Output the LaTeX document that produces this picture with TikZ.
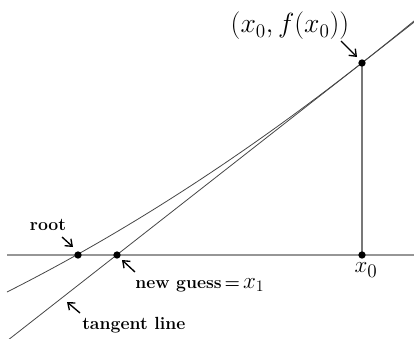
\documentclass[tikz,border=0pt]{standalone}
\usepackage{amsmath}
\usetikzlibrary{arrows.meta,calc}
\begin{document}
\begin{tikzpicture}[x=0.75pt,y=0.75pt,yscale=-1,xscale=1,
  dot/.style={circle,fill=black,inner sep=0pt,minimum size=5.5pt},
  pointer/.style={-{Straight Barb[length=4.5pt,width=7pt]},line width=1pt},
  lbl/.style={inner sep=0.75pt,font=\fontsize{13.2}{15}\bfseries}]
\useasboundingbox (0,0) rectangle (414,339);

%Axis and drop line
\draw [color={rgb, 255:red, 150; green, 150; blue, 150 }, line width=1pt] (7,255) -- (414,255) ;
\coordinate (top) at (362,63);
\coordinate (foot) at (362,255);
\draw [color={rgb, 255:red, 120; green, 120; blue, 120 }, line width=1pt] (top) -- (foot) ;

%Curve Lines
\draw [color={rgb, 255:red, 70; green, 70; blue, 70 }, line width=0.6pt] (7,292) .. controls (142.7,223.6) and (278.3,132.9) .. (414,21) ;
%Tangent line
\draw [color={rgb, 255:red, 70; green, 70; blue, 70 }, line width=0.6pt] (3,344) -- (414,22.2) ;

% Points
\node [dot] (p0) at (top) {};
\node [dot] (x0pt) at (foot) {};
\node [dot] (rt) at (78,255) {};
\node [dot] (x1pt) at (117,255) {};

% Text Node
\node [inner sep=0.75pt, font=\fontsize{19.5}{22}\selectfont] (plbl) at (290,26) {$(x_0, f(x_0))$};
% Text Node
\node [inner sep=0.75pt, font=\fontsize{19}{22}\selectfont] (x0lbl) at (366,270) {$x_0$};
% Text Node
\node [lbl] (rootlbl) at (48,225) {root};
% Text Node
\node [lbl, anchor=west] (guesslbl) at (134,285) {new guess\,=\,{\fontsize{18}{20}\selectfont$x_1$}};
% Text Node
\node [lbl, anchor=west] (tanlbl) at (81,325) {tangent line};

% Pointers
\coordinate (a1) at (341,41);
\coordinate (a2) at (62,237);
\coordinate (a3) at (135,272);
\coordinate (a4) at (80,313);
\coordinate (t4) at (67,302);
\draw [pointer] (a1) -- ($(p0)+(-5,-6)$) ;
\draw [pointer] (a2) -- ($(rt)+(-5,-8)$) ;
\draw [pointer] (a3) -- ($(x1pt)+(5,5)$) ;
\draw [pointer] (a4) -- (t4) ;
\end{tikzpicture}
\end{document}
